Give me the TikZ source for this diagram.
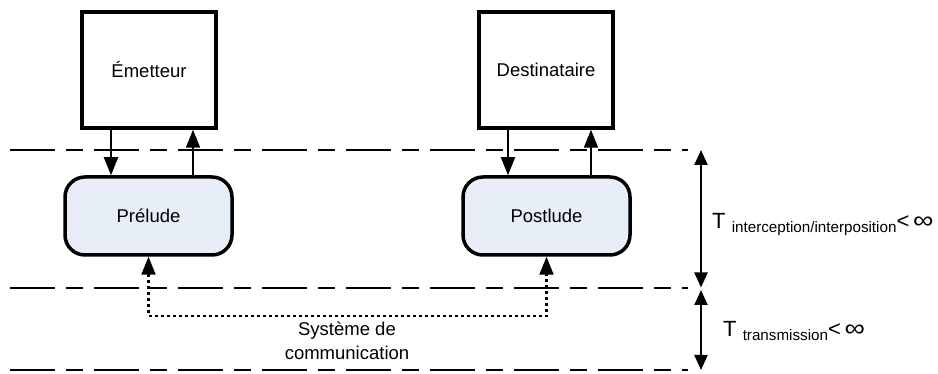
\documentclass[tikz,border=0pt]{standalone}
\usepackage{fontspec}
\setmainfont{Liberation Sans}
\usetikzlibrary{arrows.meta}
\definecolor{stagefill}{HTML}{E8EEF8}
\newcommand{\infsym}{\scalebox{1.3}[1.1]{∞}}
\tikzset{
  x=1pt, y=-1pt,
  every node/.style={inner sep=0pt, font=\fontsize{18.5}{23}\selectfont},
  partybox/.style={draw, line width=3.5pt, minimum width=134pt, minimum height=116pt},
  stagebox/.style={draw, line width=3.5pt, fill=stagefill, rounded corners=20pt,
                   minimum width=167pt, minimum height=78pt},
  flow/.style={line width=2pt, -{Triangle[length=18pt, width=14pt]}},
  link/.style={line width=2.2pt, dash pattern=on 3pt off 3pt,
               {Triangle[length=18pt, width=14pt]}-{Triangle[length=18pt, width=14pt]}},
  separator/.style={line width=2.2pt, dash pattern=on 45pt off 11pt on 17pt off 11pt},
  span/.style={line width=2.2pt, {Triangle[length=15pt, width=13pt]}-{Triangle[length=15pt, width=13pt]}},
}
\begin{document}
\begin{tikzpicture}
\useasboundingbox (0,0) rectangle (938,374);

% horizontal separators
\coordinate (s1a) at (10,150);  \coordinate (s1b) at (688,150);
\coordinate (s2a) at (10,288);  \coordinate (s2b) at (688,288);
\coordinate (s3a) at (10,370);  \coordinate (s3b) at (688,370);
\draw[separator] (s1a) -- (s1b);
\draw[separator] (s2a) -- (s2b);
\draw[separator] (s3a) -- (s3b);

% parties and stages
\node[partybox] (em)   at (149,70)  {Émetteur};
\node[partybox] (dest) at (546,70)  {Destinataire};
\node[stagebox] (pre)  at (148.5,216) {Prélude};
\node[stagebox] (post) at (546.5,216) {Postlude};

% exchanges between parties and stages
\draw[flow] ([xshift=-38pt]em.south) -- ([xshift=-38pt]em.south |- pre.north);
\draw[flow] ([xshift=44pt]em.south |- pre.north) -- ([xshift=44pt]em.south);
\draw[flow] ([xshift=-38pt]dest.south) -- ([xshift=-38pt]dest.south |- post.north);
\draw[flow] ([xshift=45pt]dest.south |- post.north) -- ([xshift=45pt]dest.south);

% communication system link
\coordinate (lk) at (347,316);
\draw[link] (pre.south) |- (lk) -| (post.south);
\node[align=center, font=\fontsize{18.5}{24}\selectfont] (sys) at (347,341)
  {Système de\\communication};

% time spans
\coordinate (m1) at (701,150);
\coordinate (m2) at (701,288.5);
\coordinate (m3) at (701,370);
\draw[span, shorten >=1pt] (m1) -- (m2);
\draw[span, shorten <=1.5pt] (m2) -- (m3);

\node[anchor=base west] (ti) at (712,229)
  {\fontsize{22}{26}\selectfont T \raisebox{-4pt}{\fontsize{15.2}{18}\selectfont interception/interposition}<\,\infsym};
\node[anchor=base west] (tt) at (723,337)
  {\fontsize{22}{26}\selectfont T \raisebox{-4pt}{\fontsize{15.2}{18}\selectfont transmission}<\,\infsym};
\end{tikzpicture}
\end{document}
